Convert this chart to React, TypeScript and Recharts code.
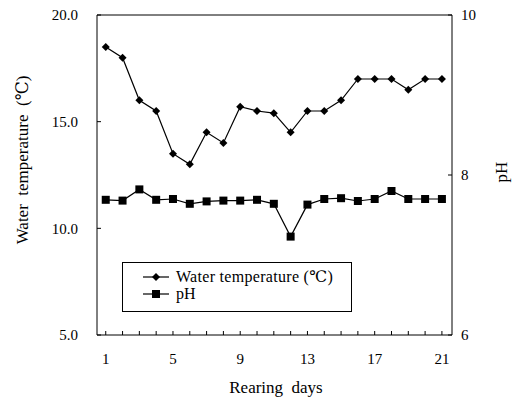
import { LineChart, Line, XAxis, YAxis, ReferenceLine, Legend } from 'recharts';

const days = [1, 2, 3, 4, 5, 6, 7, 8, 9, 10, 11, 12, 13, 14, 15, 16, 17, 18, 19, 20, 21];
const waterTemp = [18.5, 18.0, 16.0, 15.5, 13.5, 13.0, 14.5, 14.0, 15.7, 15.5, 15.4, 14.5, 15.5, 15.5, 16.0, 17.0, 17.0, 17.0, 16.5, 17.0, 17.0];
const ph = [7.69, 7.68, 7.82, 7.69, 7.7, 7.64, 7.67, 7.68, 7.68, 7.69, 7.64, 7.23, 7.63, 7.7, 7.71, 7.675, 7.7, 7.8, 7.7, 7.7, 7.7];
const tempTicks = [5, 10, 15, 20];
const phTicks = [6, 8, 10];
const labelledDays = [1, 5, 9, 13, 17, 21];

const data = days.map((d, i) => ({ day: d, temp: waterTemp[i], ph: ph[i] }));

const font = '"Liberation Serif", "DejaVu Serif", serif';
const tickStyle = { fill: '#000', fontSize: 15, fontFamily: font };

const Diamond = (props: any) => {
  const { cx, cy } = props;
  if (cx == null || cy == null) return null;
  const s = 4;
  return <polygon points={`${cx},${cy - s} ${cx + s},${cy} ${cx},${cy + s} ${cx - s},${cy}`} fill="#000" />;
};

const Square = (props: any) => {
  const { cx, cy } = props;
  if (cx == null || cy == null) return null;
  return <rect x={cx - 4} y={cy - 4} width={8} height={8} fill="#000" />;
};

const LegendBox = () => (
  <div style={{ fontFamily: font, fontSize: 16, color: '#000', padding: '5px 0 0 20px', lineHeight: '17px' }}>
    <div style={{ display: 'flex', alignItems: 'center', height: 17 }}>
      <svg width={30} height={12}>
        <line x1={0} y1={6} x2={26} y2={6} stroke="#000" strokeWidth={1.2} />
        <polygon points="13,2 17,6 13,10 9,6" fill="#000" />
      </svg>
      <span style={{ marginLeft: 3, letterSpacing: 0.3 }}>Water temperature (℃)</span>
    </div>
    <div style={{ display: 'flex', alignItems: 'center', height: 17 }}>
      <svg width={30} height={12}>
        <line x1={0} y1={6} x2={26} y2={6} stroke="#000" strokeWidth={1.2} />
        <rect x={9} y={2} width={8} height={8} fill="#000" />
      </svg>
      <span style={{ marginLeft: 3 }}>pH</span>
    </div>
  </div>
);

export default function App() {
  return (
    <div style={{ position: 'absolute', left: 0, top: 0, background: '#fff' }}>
      <LineChart width={522} height={402} data={data} margin={{ top: 15, right: 0, bottom: 0, left: 0 }}>
        <XAxis
          dataKey="day"
          type="number"
          domain={[0.48, 21.6]}
          allowDataOverflow
          ticks={days}
          interval={0}
          tickFormatter={(v: number) => (labelledDays.includes(v) ? String(v) : '')}
          tick={tickStyle}
          tickSize={-4}
          tickMargin={22}
          height={67}
          axisLine={{ stroke: '#000' }}
          tickLine={{ stroke: '#000' }}
          label={() => (
            <text x={276} y={393} textAnchor="middle" fontFamily={font} fontSize={17} fill="#000" style={{ whiteSpace: 'pre' }}>
              Rearing  days
            </text>
          )}
        />
        <YAxis
          yAxisId="left"
          domain={[5, 20]}
          ticks={tempTicks}
          tickFormatter={(v: number) => v.toFixed(1)}
          tick={tickStyle}
          width={97}
          tickSize={-4}
          tickMargin={23}
          axisLine={{ stroke: '#000' }}
          tickLine={{ stroke: '#000' }}
          label={() => (
            <text x={22} y={160} transform="rotate(-90 22 160)" textAnchor="middle" dominantBaseline="central" fontFamily={font} fontSize={17} fill="#000" style={{ whiteSpace: 'pre' }}>
              Water  temperature  (℃)
            </text>
          )}
        />
        <YAxis
          yAxisId="right"
          orientation="right"
          domain={[6, 10]}
          ticks={phTicks}
          tick={{ ...tickStyle, textAnchor: 'start' }}
          width={70}
          tickSize={-4}
          tickMargin={13}
          axisLine={{ stroke: '#000' }}
          tickLine={{ stroke: '#000' }}
          label={() => (
            <text x={501} y={172} transform="rotate(-90 501 172)" textAnchor="middle" dominantBaseline="central" fontFamily={font} fontSize={17} fill="#000">
              pH
            </text>
          )}
        />
        <ReferenceLine yAxisId="left" y={20} stroke="#000" />
        <Legend
          layout="vertical"
          align="center"
          verticalAlign="middle"
          content={() => <LegendBox />}
          wrapperStyle={{ position: 'absolute', left: 122, top: 262, width: 230, height: 50, border: '1px solid #000', boxSizing: 'border-box', background: '#fff' }}
        />
        <Line yAxisId="left" dataKey="temp" stroke="#000" strokeWidth={1.2} dot={<Diamond />} activeDot={false} isAnimationActive={false} />
        <Line yAxisId="right" dataKey="ph" stroke="#000" strokeWidth={1.2} dot={<Square />} activeDot={false} isAnimationActive={false} />
      </LineChart>
    </div>
  );
}
